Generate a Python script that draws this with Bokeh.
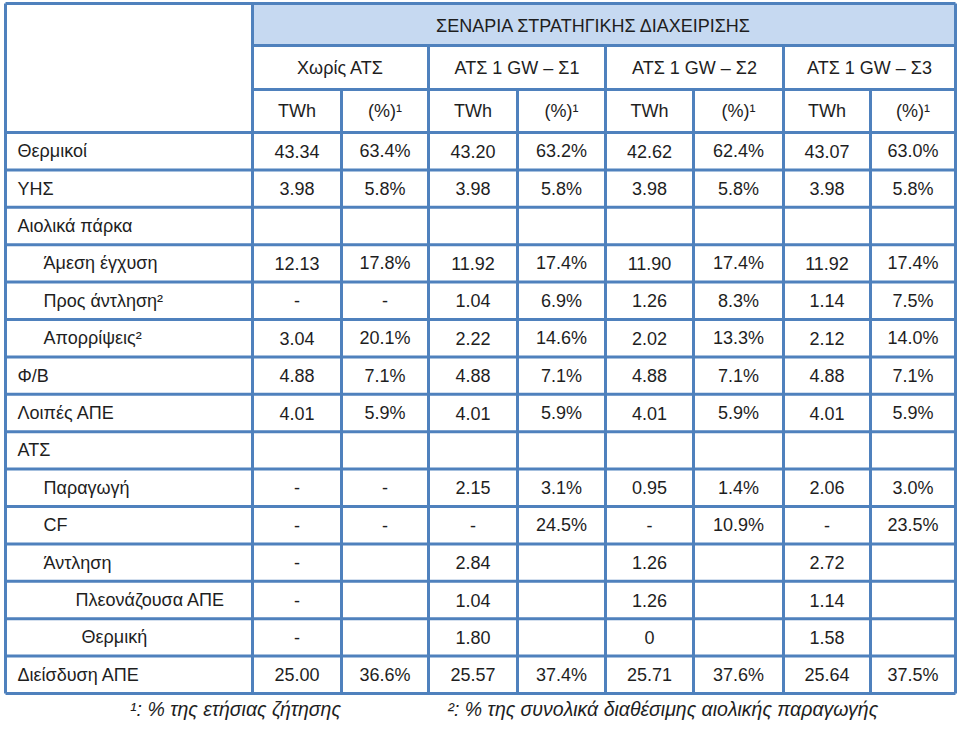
from bokeh.plotting import figure
from bokeh.models import Range1d
from bokeh.core.properties import value
from bokeh.embed import file_html
from bokeh.resources import INLINE

# ---------------- data ----------------
title = "ΣΕΝΑΡΙΑ ΣΤΡΑΤΗΓΙΚΗΣ ΔΙΑΧΕΙΡΙΣΗΣ"
scenarios = ["Χωρίς ΑΤΣ", "ΑΤΣ 1 GW – Σ1", "ΑΤΣ 1 GW – Σ2", "ΑΤΣ 1 GW – Σ3"]
subheads = ["TWh", "(%)¹"]

row_labels = ["Θερμικοί", "ΥΗΣ", "Αιολικά πάρκα", "Άμεση έγχυση", "Προς άντληση²",
              "Απορρίψεις²", "Φ/Β", "Λοιπές ΑΠΕ", "ΑΤΣ", "Παραγωγή", "CF", "Άντληση",
              "Πλεονάζουσα ΑΠΕ", "Θερμική", "Διείσδυση ΑΠΕ"]
row_level = [0, 0, 0, 1, 1, 1, 0, 0, 0, 1, 1, 1, 2, 3, 0]

no_ats = [("43.34", "63.4%"), ("3.98", "5.8%"), ("", ""), ("12.13", "17.8%"), ("-", "-"),
          ("3.04", "20.1%"), ("4.88", "7.1%"), ("4.01", "5.9%"), ("", ""), ("-", "-"),
          ("-", "-"), ("-", ""), ("-", ""), ("-", ""), ("25.00", "36.6%")]
s1 = [("43.20", "63.2%"), ("3.98", "5.8%"), ("", ""), ("11.92", "17.4%"), ("1.04", "6.9%"),
      ("2.22", "14.6%"), ("4.88", "7.1%"), ("4.01", "5.9%"), ("", ""), ("2.15", "3.1%"),
      ("-", "24.5%"), ("2.84", ""), ("1.04", ""), ("1.80", ""), ("25.57", "37.4%")]
s2 = [("42.62", "62.4%"), ("3.98", "5.8%"), ("", ""), ("11.90", "17.4%"), ("1.26", "8.3%"),
      ("2.02", "13.3%"), ("4.88", "7.1%"), ("4.01", "5.9%"), ("", ""), ("0.95", "1.4%"),
      ("-", "10.9%"), ("1.26", ""), ("1.26", ""), ("0", ""), ("25.71", "37.6%")]
s3 = [("43.07", "63.0%"), ("3.98", "5.8%"), ("", ""), ("11.92", "17.4%"), ("1.14", "7.5%"),
      ("2.12", "14.0%"), ("4.88", "7.1%"), ("4.01", "5.9%"), ("", ""), ("2.06", "3.0%"),
      ("-", "23.5%"), ("2.72", ""), ("1.14", ""), ("1.58", ""), ("25.64", "37.5%")]
footnote1 = "¹: % της ετήσιας ζήτησης"
footnote2 = "²: % της συνολικά διαθέσιμης αιολικής παραγωγής"

# ---------------- layout / style ----------------
BORDER = "#4F81BD"
HEAD_FILL = "#C6D9F1"
TXT = "#1e1e1e"
FONT = value("Liberation Sans")
FS = "18px"

col_edges = [5, 252, 341, 428, 517, 605, 693, 783, 870, 955]
head_edges = [3, 45, 89, 132]
row_h = 37.4
n_rows = len(row_labels)
row_edges = [head_edges[-1] + row_h * i for i in range(n_rows + 1)]
indent_x = {0: 17, 1: 43, 2: 75, 3: 81}

W, H = 957, 722
p = figure(width=W, height=H, x_range=Range1d(0, W), y_range=Range1d(H, 0),
           output_backend="svg", toolbar_location=None, min_border=0)
p.axis.visible = False
p.grid.visible = False
p.outline_line_color = None
p.background_fill_color = "white"

# header fill
p.quad(left=[col_edges[1]], right=[col_edges[-1]], top=[head_edges[0]], bottom=[head_edges[1]],
       fill_color=HEAD_FILL, line_color=None)

# grid lines
x0s, y0s, x1s, y1s = [], [], [], []
L, R = col_edges[0], col_edges[-1]
for y in [head_edges[0]] + [head_edges[-1]] + row_edges[1:]:
    x0s.append(L); x1s.append(R); y0s.append(y); y1s.append(y)
for y in head_edges[1:3]:
    x0s.append(col_edges[1]); x1s.append(R); y0s.append(y); y1s.append(y)
bottom = row_edges[-1]
for x in [L, col_edges[1], R]:
    x0s.append(x); x1s.append(x); y0s.append(head_edges[0]); y1s.append(bottom)
for x in col_edges[3:-1:2]:
    x0s.append(x); x1s.append(x); y0s.append(head_edges[1]); y1s.append(bottom)
for x in col_edges[2:-1:2]:
    x0s.append(x); x1s.append(x); y0s.append(head_edges[2]); y1s.append(bottom)
p.segment(x0=x0s, y0=y0s, x1=x1s, y1=y1s, line_color=BORDER, line_width=3)

# header texts
hx, hy, ht = [], [], []
hx.append((col_edges[1] + col_edges[-1]) / 2 - 10); hy.append((head_edges[0] + head_edges[1]) / 2 + 1); ht.append(title)
for i, s in enumerate(scenarios):
    hx.append((col_edges[1 + 2 * i] + col_edges[3 + 2 * i]) / 2)
    hy.append((head_edges[1] + head_edges[2]) / 2)
    ht.append(s)
    for j in range(2):
        c = 1 + 2 * i + j
        hx.append((col_edges[c] + col_edges[c + 1]) / 2)
        hy.append((head_edges[2] + head_edges[3]) / 2)
        ht.append(subheads[j])
p.text(x=hx, y=hy, text=ht, text_font=FONT, text_font_size=FS, text_color=TXT,
       text_align="center", text_baseline="middle")

# row labels
lx = [indent_x[l] for l in row_level]
ly = [(row_edges[i] + row_edges[i + 1]) / 2 for i in range(n_rows)]
p.text(x=lx, y=ly, text=row_labels, text_font=FONT, text_font_size=FS, text_color=TXT,
       text_align="left", text_baseline="middle")

# cell values
cx, cy, ct = [], [], []
for si, series in enumerate([no_ats, s1, s2, s3]):
    for r, pair in enumerate(series):
        for j in range(2):
            c = 1 + 2 * si + j
            if pair[j]:
                cx.append((col_edges[c] + col_edges[c + 1]) / 2)
                cy.append(ly[r])
                ct.append(pair[j])
p.text(x=cx, y=cy, text=ct, text_font=FONT, text_font_size=FS, text_color=TXT,
       text_align="center", text_baseline="middle")

# footnotes
FN_Y = 708
FN_FS = "19.5px"
p.text(x=[235], y=[FN_Y], text=[footnote1], text_font=FONT, text_font_size=FN_FS,
       text_font_style="italic", text_color=TXT, text_align="center", text_baseline="middle")
p.text(x=[447], y=[FN_Y], text=[footnote2], text_font=FONT, text_font_size=FN_FS,
       text_font_style="italic", text_color=TXT, text_align="left", text_baseline="middle")

open("out.html", "w").write(file_html(p, INLINE))
